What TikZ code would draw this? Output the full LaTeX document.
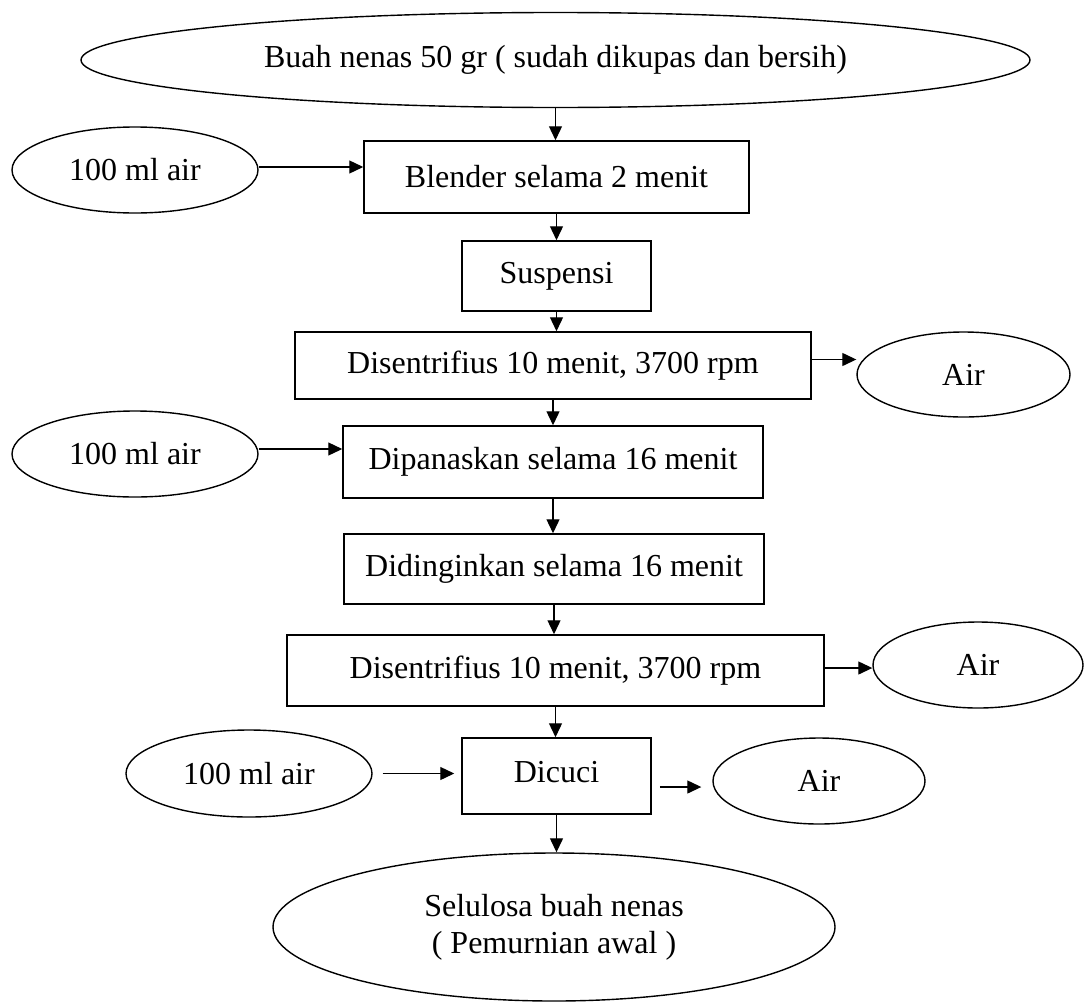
\documentclass[tikz,border=0pt]{standalone}
\usepackage{fontspec}
\setmainfont{Liberation Serif}
\usepackage{tikz}
\usetikzlibrary{arrows.meta,shapes.geometric}
\tikzset{
	proses/.style={draw, rectangle, line width=1.5pt, inner sep=0pt},
	bahan/.style={draw, ellipse, line width=1.4pt, inner sep=0pt},
	alir/.style={line width=1.3pt, -{Triangle[length=14pt,width=13pt]}}
}

\begin{document}
\begin{tikzpicture}[x=1pt, y=-1pt, font=\fontsize{32}{37}\selectfont]
		%%%%% START %%%%%
		\useasboundingbox (0, 0) rectangle (1091, 1001);
		
		\node[bahan, minimum width=949, minimum height=95] (buah) at (555.5, 60) {Buah nenas 50 gr ( sudah dikupas dan bersih)};
		
		\node[bahan, minimum width=246, minimum height=86] (air1) at (135, 170) {100 ml air};
		\node[proses, minimum width=385, minimum height=72] (blender) at (556.5, 177) {Blender selama 2 menit};
		\node[proses, minimum width=189, minimum height=70] (suspensi) at (556.5, 276) {Suspensi};
		
		\node[proses, minimum width=516, minimum height=67] (sentri1) at (553, 365.5) {Disentrifius 10 menit, 3700 rpm};
		\node[bahan, minimum width=213, minimum height=85] (buang1) at (963.5, 374.5) {Air};
		
		\node[bahan, minimum width=246, minimum height=86] (air2) at (135, 454) {100 ml air};
		\node[proses, minimum width=420, minimum height=72] (panas) at (553, 462) {Dipanaskan selama 16 menit};
		\node[proses, minimum width=420, minimum height=70] (dingin) at (554, 569) {Didinginkan selama 16 menit};
		
		\node[proses, minimum width=537, minimum height=71] (sentri2) at (555.5, 670.5) {Disentrifius 10 menit, 3700 rpm};
		\node[bahan, minimum width=210, minimum height=86] (buang2) at (978, 665) {Air};
		
		\node[bahan, minimum width=246, minimum height=87] (air3) at (249, 773.5) {100 ml air};
		\node[proses, minimum width=189, minimum height=76] (cuci) at (556.5, 776) {\raisebox{8pt}{Dicuci}};
		\node[bahan, minimum width=212, minimum height=86] (buang3) at (819, 781) {Air};
		
		\node[bahan, minimum width=562, minimum height=148, align=center] (hasil) at (554, 927) {Selulosa buah nenas\\( Pemurnian awal )};
		
		% alur utama
		\draw[alir] (buah.south) -- (buah.south |- blender.north);
		\draw[alir] (blender.south) -- (blender.south |- suspensi.north);
		\draw[alir] (suspensi.south) -- (suspensi.south |- sentri1.north);
		\draw[alir] (sentri1.south) -- (sentri1.south |- panas.north);
		\draw[alir] (panas.south) -- (panas.south |- dingin.north);
		\draw[alir] (dingin.south) -- (dingin.south |- sentri2.north);
		\draw[alir] (sentri2.south) -- (sentri2.south |- cuci.north);
		\draw[alir] (cuci.south) -- (cuci.south |- hasil.north);
		
		% masuk dan keluar
		\draw[alir] ([yshift=3]air1.east) -- ([yshift=3]air1.east -| blender.west);
		\draw[alir] ([yshift=5]air2.east) -- ([yshift=5]air2.east -| panas.west);
		\draw[alir, shorten <=10pt, shorten >=7pt] (air3.east) -- (air3.east -| cuci.west);
		\draw[alir] ([yshift=6]sentri1.east) -- ([yshift=6]sentri1.east -| buang1.west);
		\draw[alir] ([yshift=-3]buang2.west -| sentri2.east) -- ([yshift=-3]buang2.west);
		\draw[alir, shorten <=8pt, shorten >=11pt] ([yshift=-6]buang3.west -| cuci.east) -- ([yshift=-6]buang3.west);
		
		%%%%% END %%%%%
	\end{tikzpicture}
\end{document}
